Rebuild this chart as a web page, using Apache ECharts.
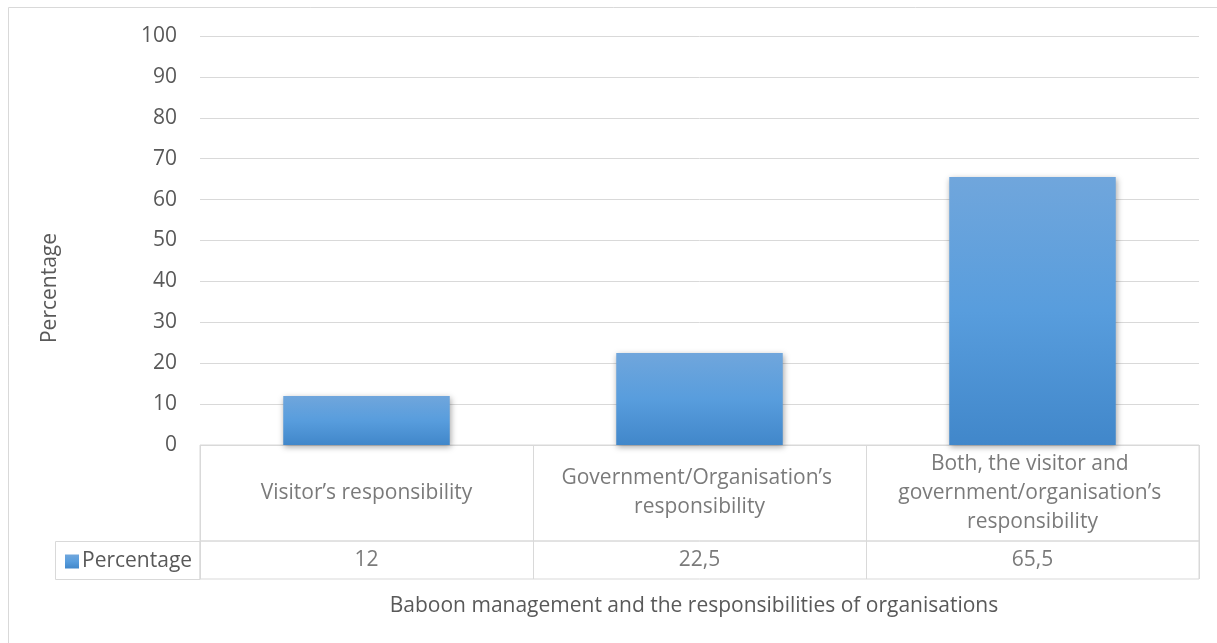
<!DOCTYPE html>
<html>
<head>
<meta charset="utf-8">
<script src="https://cdn.jsdelivr.net/npm/echarts@6/dist/echarts.min.js"></script>
<style>
  html, body { margin: 0; padding: 0; background: #fff; }
  #chart { width: 1217px; height: 643px; }
</style>
</head>
<body>
<div id="chart"></div>
<script>
// Survey answers: who is responsible for baboon management
const categories = [
  'Visitor\u2019s responsibility',
  'Government/Organisation\u2019s responsibility',
  'Both, the visitor and government/organisation\u2019s responsibility'
];
const seriesName = 'Percentage';
const percentages = [12, 22.5, 65.5];
const yTicks = { min: 0, max: 100, step: 10 };
const yTitle = 'Percentage';
const xTitle = 'Baboon management and the responsibilities of organisations';

const FONT = 'Open Sans';
const FS = 21;
const TEXT = '#595959';
const LINE = '#d9d9d9';

// decimal comma, as printed in the table
const fmt = v => String(v).replace('.', ',');

const chart = echarts.init(document.getElementById('chart'), null, { renderer: 'canvas' });

const gridL = 200, gridR = 18;

chart.setOption({
  animation: false,
  textStyle: { fontFamily: FONT, color: TEXT },
  grid: [
    // bars
    { left: gridL, right: gridR, top: 36, height: 409 },
    // data table: category row
    { left: gridL, right: gridR, top: 445, height: 96, show: true, borderColor: LINE, borderWidth: 1 },
    // data table: value row
    { left: gridL, right: gridR, top: 541, height: 38, show: true, borderColor: LINE, borderWidth: 1 }
  ],
  xAxis: [
    { type: 'category', gridIndex: 0, data: categories,
      axisLine: { show: false }, axisTick: { show: false }, axisLabel: { show: false } },
    { type: 'category', gridIndex: 1, data: categories,
      axisLine: { show: false }, axisTick: { show: false }, axisLabel: { show: false },
      splitLine: { show: true, interval: 0, lineStyle: { color: LINE, width: 1 } } },
    { type: 'category', gridIndex: 2, data: categories,
      axisLine: { show: false }, axisTick: { show: false }, axisLabel: { show: false },
      splitLine: { show: true, interval: 0, lineStyle: { color: LINE, width: 1 } } }
  ],
  yAxis: [
    { type: 'value', gridIndex: 0, min: yTicks.min, max: yTicks.max, interval: yTicks.step,
      axisLine: { show: false }, axisTick: { show: false },
      axisLabel: { margin: 23, fontSize: FS, color: TEXT, fontFamily: FONT },
      splitLine: { lineStyle: { color: LINE, width: 1 } } },
    { type: 'value', gridIndex: 1, min: 0, max: 1, show: false },
    { type: 'value', gridIndex: 2, min: 0, max: 1, show: false }
  ],
  series: [
    {
      name: seriesName,
      type: 'bar',
      xAxisIndex: 0, yAxisIndex: 0,
      data: percentages,
      barWidth: '50%',
      itemStyle: {
        color: new echarts.graphic.LinearGradient(0, 0, 0, 1, [
          { offset: 0, color: '#70a6dc' },
          { offset: 0.5, color: '#589ddd' },
          { offset: 1, color: '#4187ca' }
        ]),
        shadowColor: 'rgba(0,0,0,0.35)',
        shadowBlur: 6,
        shadowOffsetX: 1,
        shadowOffsetY: 2
      }
    },
    {
      // category names in the table's first row
      type: 'scatter',
      xAxisIndex: 1, yAxisIndex: 1,
      symbolSize: 0,
      silent: true,
      data: categories.map(c => [c, 0.5]),
      label: {
        show: true, position: 'inside',
        formatter: p => categories[p.dataIndex],
        width: 300, overflow: 'break',
        fontSize: FS, lineHeight: 29, color: TEXT, fontFamily: FONT, align: 'center'
      }
    },
    {
      // values in the table's second row
      type: 'scatter',
      xAxisIndex: 2, yAxisIndex: 2,
      symbolSize: 0,
      silent: true,
      data: percentages.map((v, i) => [categories[i], 0.5, v]),
      label: {
        show: true, position: 'inside',
        formatter: p => fmt(p.value[2]),
        fontSize: FS, color: TEXT, fontFamily: FONT
      }
    }
  ],
  legend: {
    data: [{ name: seriesName, icon: 'rect' }],
    left: 60, top: 546,
    itemWidth: 14, itemHeight: 14, itemGap: 5,
    selectedMode: false,
    textStyle: { fontSize: FS, color: TEXT, fontFamily: FONT, padding: [0, 0, 0, -2] }
  },
  graphic: [
    // chart frame
    { type: 'rect', shape: { x: 8.5, y: 7.5, width: 1230, height: 660 },
      style: { fill: null, stroke: LINE, lineWidth: 1 }, silent: true },
    // legend cell of the data table
    { type: 'rect', shape: { x: 55.5, y: 541.5, width: 144.5, height: 38 },
      style: { fill: null, stroke: LINE, lineWidth: 1 }, silent: true },
    // axis titles
    { type: 'text', x: 50, y: 288, rotation: Math.PI / 2,
      style: { text: yTitle, fontSize: FS, fill: TEXT, fontFamily: FONT,
        textAlign: 'center', textVerticalAlign: 'middle' } },
    { type: 'text', x: 694, y: 606,
      style: { text: xTitle, fontSize: FS, fill: TEXT, fontFamily: FONT,
        textAlign: 'center', textVerticalAlign: 'middle' } }
  ]
});
</script>
</body>
</html>
